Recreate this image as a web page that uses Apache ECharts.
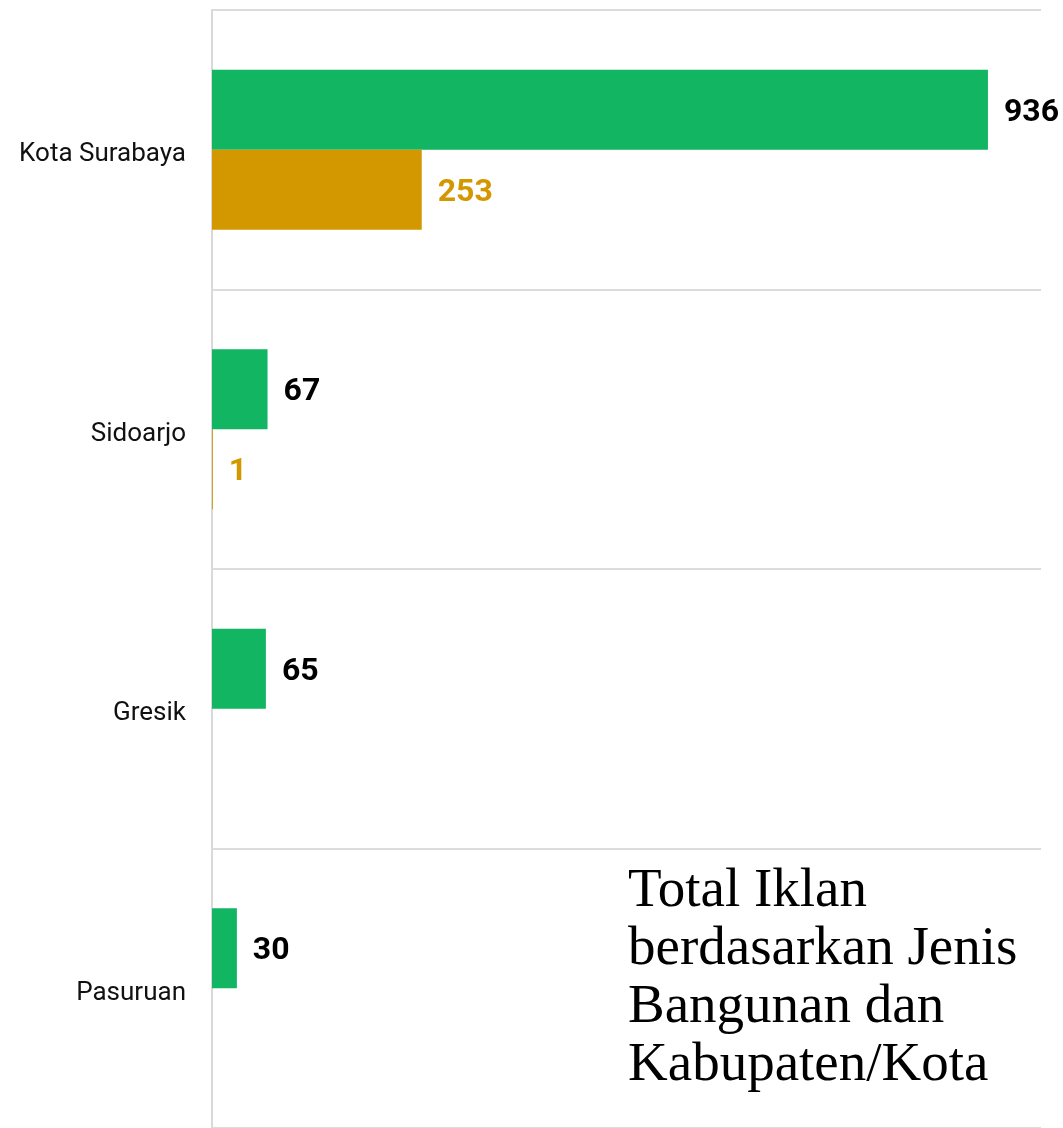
<!DOCTYPE html>
<html>
<head>
<meta charset="utf-8">
<script src="https://cdn.jsdelivr.net/npm/echarts@6/dist/echarts.min.js"></script>
<style>
	html, body { margin: 0; padding: 0; background: #fff; }
	#chart { width: 1063px; height: 1128px; }
</style>
</head>
<body>
<div id="chart"></div>
<script>
const categories = ['Kota Surabaya', 'Sidoarjo', 'Gresik', 'Pasuruan']
const greenValues = [936, 67, 65, 30]
const goldValues = [253, 1, null, null]
const titleLines = ['Total Iklan', 'berdasarkan Jenis', 'Bangunan dan', 'Kabupaten/Kota']

const myChart = echarts.init(document.getElementById('chart'))

const labelOpts = (color) => ({
	show: true,
	position: 'right',
	distance: 16,
	offset: [0, 3],
	color: color,
	fontFamily: 'Roboto',
	fontWeight: 'bold',
	fontSize: 32,
})

const options = {
	animation: false,
	grid: {
		left: 212,
		right: 22,
		top: 10,
		bottom: -2,
	},
	xAxis: {
		type: 'value',
		min: 0,
		max: 1000,
		axisLine: { show: false },
		axisTick: { show: false },
		axisLabel: { show: false },
		splitLine: { show: false },
	},
	yAxis: {
		type: 'category',
		data: categories,
		inverse: true,
		axisLine: { show: true, lineStyle: { color: '#d9d9d9', width: 2 } },
		axisTick: { show: false },
		axisLabel: {
			color: '#111',
			fontFamily: 'Roboto',
			fontSize: 26,
			margin: 26,
			verticalAlign: 'top',
			lineHeight: 10,
		},
		splitLine: { show: true, lineStyle: { color: '#dcdcdc', width: 2 } },
	},
	series: [
		{
			type: 'bar',
			name: 'green',
			data: greenValues,
			barWidth: 80,
			barGap: '0%',
			itemStyle: { color: '#11b562' },
			label: labelOpts('#000'),
		},
		{
			type: 'bar',
			name: 'gold',
			data: goldValues,
			barWidth: 80,
			itemStyle: { color: '#d39700' },
			label: labelOpts('#d39700'),
		},
	],
	graphic: [
		{
			type: 'text',
			left: 628,
			top: 863,
			style: {
				text: titleLines.join('\n'),
				fontFamily: 'Liberation Serif',
				fontSize: 55,
				lineHeight: 58,
				fill: '#000',
			},
		},
	],
}

myChart.setOption(options)
</script>
</body>
</html>
